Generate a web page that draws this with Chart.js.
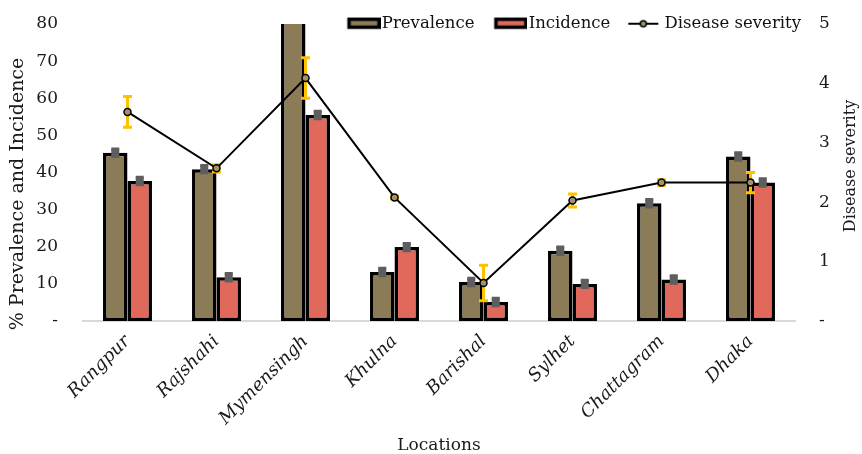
<!DOCTYPE html>
<html>
<head>
<meta charset="utf-8">
<script src="https://cdn.jsdelivr.net/npm/chart.js@4.4.1/dist/chart.umd.min.js"></script>
<style>
  html, body { margin: 0; padding: 0; background: #fff; }
  #wrap { width: 862px; height: 454px; }
</style>
</head>
<body>
<div id="wrap"><canvas id="chart" width="862" height="454"></canvas></div>
<script>
// ---- data ----
const locations = ['Rangpur', 'Rajshahi', 'Mymensingh', 'Khulna', 'Barishal', 'Sylhet', 'Chattagram', 'Dhaka'];
const prevalence = [45.3, 40.9, 85, 13.2, 10.5, 18.9, 31.7, 44.3];
const prevalenceErr = [1, 1, 1, 1, 1, 1, 1, 1];
const incidence = [37.7, 11.8, 55.5, 19.9, 5.1, 10.0, 11.2, 37.3];
const incidenceErr = [1, 1, 1, 1, 1, 1, 1, 1];
const severity = [3.52, 2.57, 4.09, 2.08, 0.64, 2.03, 2.33, 2.33];
const severityErr = [0.26, 0.06, 0.34, 0.02, 0.3, 0.11, 0.05, 0.17];
const leftMax = 80, leftStep = 10;
const rightMax = 5, rightStep = 1;

const FONT = "'DejaVu Serif', serif";
const COLORS = {
  prevalence: '#8b7b57',
  incidence: '#e0695b',
  errGrey: '#5e5e5e',
  errYellow: '#ffc000',
  point: '#a0926a'
};

// legend symbols (box with thick border / line with marker)
function swatch(draw) {
  const c = document.createElement('canvas');
  c.width = 46;
  c.height = 14;
  draw(c.getContext('2d'));
  return c;
}
function boxSwatch(fill) {
  return swatch(g => {
    g.fillStyle = fill;
    g.fillRect(14.5, 2.5, 30, 8);
    g.lineWidth = 3.5;
    g.strokeStyle = '#000';
    g.strokeRect(14.5, 2.5, 30, 8);
  });
}
const lineSwatch = swatch(g => {
  g.strokeStyle = '#000';
  g.lineWidth = 2;
  g.beginPath(); g.moveTo(11, 7); g.lineTo(41, 7); g.stroke();
  g.fillStyle = COLORS.point;
  g.lineWidth = 1.5;
  g.beginPath(); g.arc(26, 7, 3, 0, Math.PI * 2); g.fill(); g.stroke();
});

// error bars: stem width and cap width per style
function drawErrors(chart, index, errors, color, stem, cap) {
  const meta = chart.getDatasetMeta(index);
  const yScale = chart.scales[meta.yAxisID];
  const values = chart.data.datasets[index].data;
  const area = chart.chartArea;
  const ctx = chart.ctx;
  ctx.save();
  ctx.beginPath();
  ctx.rect(area.left, area.top, area.right - area.left, area.bottom - area.top);
  ctx.clip();
  ctx.strokeStyle = color;
  meta.data.forEach((el, i) => {
    const x = el.x;
    const hi = yScale.getPixelForValue(values[i] + errors[i]);
    const lo = yScale.getPixelForValue(values[i] - errors[i]);
    ctx.lineWidth = stem;
    ctx.beginPath();
    ctx.moveTo(x, hi); ctx.lineTo(x, lo);
    ctx.stroke();
    ctx.lineWidth = 3;
    ctx.beginPath();
    ctx.moveTo(x - cap / 2, hi); ctx.lineTo(x + cap / 2, hi);
    ctx.moveTo(x - cap / 2, lo); ctx.lineTo(x + cap / 2, lo);
    ctx.stroke();
  });
  ctx.restore();
}

const errorBars = {
  id: 'errorBars',
  afterDatasetDraw(chart, args) {
    if (args.index === 0) drawErrors(chart, 0, prevalenceErr, COLORS.errGrey, 8, 8);
    if (args.index === 1) drawErrors(chart, 1, incidenceErr, COLORS.errGrey, 8, 8);
  },
  beforeDatasetDraw(chart, args) {
    if (args.index === 2) drawErrors(chart, 2, severityErr, COLORS.errYellow, 3, 9);
  }
};

// axis titles drawn both reading bottom-to-top, like the source
const sideTitles = {
  id: 'sideTitles',
  afterDraw(chart) {
    const ctx = chart.ctx;
    ctx.save();
    ctx.fillStyle = '#1a1a1a';
    ctx.textAlign = 'center';
    ctx.textBaseline = 'middle';
    [['% Prevalence and Incidence', 18.5, 194, 19], ['Disease severity', 851, 166, 16]].forEach(([text, x, y, size]) => {
      ctx.save();
      ctx.font = size + 'px ' + FONT;
      ctx.translate(x, y);
      ctx.rotate(-Math.PI / 2);
      ctx.fillText(text, 0, 0);
      ctx.restore();
    });
    ctx.restore();
  }
};

// legend sits over the top of the plot, right side
const legendShift = {
  id: 'legendShift',
  afterLayout(chart) {
    const lg = chart.legend;
    lg.left -= 47;
    lg.right -= 47;
    lg.top = 1.5;
    lg.bottom = 40;
    lg.height = 38.5;
  }
};

const zeroDash = v => (v === 0 ? '-' : v);

// fixed axis box sizes, no extra label padding above/below the plot
const fixWidth = w => s => { s.width = w; s.paddingTop = 0; s.paddingBottom = 0; };

new Chart(document.getElementById('chart').getContext('2d'), {
  type: 'bar',
  data: {
    labels: locations,
    datasets: [
      {
        label: 'Prevalence',
        data: prevalence,
        backgroundColor: COLORS.prevalence,
        borderColor: '#000',
        borderWidth: 3.5,
        borderSkipped: false,
        categoryPercentage: 0.55,
        barPercentage: 1,
        yAxisID: 'y',
        order: 1,
        clip: 0
      },
      {
        label: 'Incidence',
        data: incidence,
        backgroundColor: COLORS.incidence,
        borderColor: '#000',
        borderWidth: 3.5,
        borderSkipped: false,
        categoryPercentage: 0.55,
        barPercentage: 1,
        yAxisID: 'y',
        order: 1,
        clip: 0
      },
      {
        type: 'line',
        label: 'Disease severity',
        data: severity,
        borderColor: '#000',
        borderWidth: 2,
        pointRadius: 3.5,
        pointBorderWidth: 1.5,
        pointBorderColor: '#000',
        pointBackgroundColor: COLORS.point,
        tension: 0,
        yAxisID: 'y1',
        order: 0
      }
    ]
  },
  options: {
    responsive: false,
    animation: false,
    layout: { padding: 0 },
    plugins: {
      tooltip: { enabled: false },
      legend: {
        display: true,
        position: 'top',
        align: 'end',
        maxHeight: 24,
        labels: {
          usePointStyle: true,
          pointStyleWidth: 32,
          padding: 14,
          color: '#111',
          font: { family: FONT, size: 16.5 },
          generateLabels: () => [
            { text: 'Prevalence', pointStyle: boxSwatch(COLORS.prevalence), datasetIndex: 0, hidden: false, fontColor: '#111' },
            { text: 'Incidence', pointStyle: boxSwatch(COLORS.incidence), datasetIndex: 1, hidden: false, fontColor: '#111' },
            { text: 'Disease severity', pointStyle: lineSwatch, datasetIndex: 2, hidden: false, fontColor: '#111' }
          ]
        }
      }
    },
    scales: {
      x: {
        grid: { display: false, drawTicks: false },
        border: { display: true, color: '#d9d9d9', width: 2 },
        ticks: {
          minRotation: 45,
          maxRotation: 45,
          padding: 10,
          color: '#1a1a1a',
          font: { family: FONT, size: 18, style: 'italic' }
        },
        title: {
          display: true,
          text: 'Locations',
          color: '#1a1a1a',
          padding: { top: 0, bottom: 0 },
          font: { family: FONT, size: 17, lineHeight: 1 }
        },
        afterFit: s => { s.height = 133; }
      },
      y: {
        position: 'left',
        min: 0,
        max: leftMax,
        grid: { display: false, drawTicks: false },
        border: { display: false },
        ticks: {
          stepSize: leftStep,
          padding: 25,
          color: '#1a1a1a',
          font: { family: FONT, size: 17 },
          callback: zeroDash
        },
        afterFit: fixWidth(83)
      },
      y1: {
        position: 'right',
        min: 0,
        max: rightMax,
        grid: { display: false, drawTicks: false },
        border: { display: false },
        ticks: {
          stepSize: rightStep,
          padding: 24,
          color: '#1a1a1a',
          font: { family: FONT, size: 17 },
          callback: zeroDash
        },
        afterFit: fixWidth(67)
      }
    }
  },
  plugins: [errorBars, sideTitles, legendShift]
});
</script>
</body>
</html>
